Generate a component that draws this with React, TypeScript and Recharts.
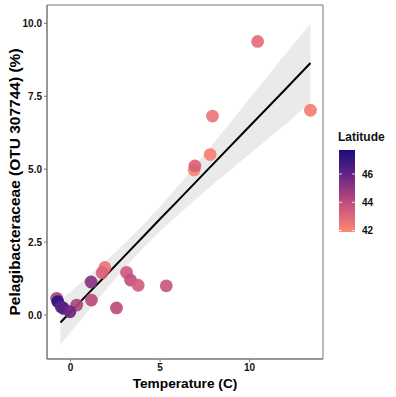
import React from 'react';
import {
    ComposedChart,
    Area,
    Line,
    Scatter,
    XAxis,
    YAxis,
    ReferenceArea
} from 'recharts';

// Samples: temperature (C), relative abundance (%), latitude
const temperature = [10.45, 13.4, 7.93, 7.8, 6.91, 6.95, 1.92, 1.77, 1.15, 3.13, 3.35, 3.78, 5.35, 1.17, 2.57, 0.35, -0.77, -0.71, -0.4, -0.52, -0.03];
const abundance = [9.38, 7.02, 6.82, 5.5, 4.97, 5.11, 1.63, 1.45, 1.13, 1.46, 1.2, 1.02, 1.0, 0.51, 0.24, 0.34, 0.57, 0.46, 0.23, 0.28, 0.11];
const latitude = [42.8, 42.3, 42.5, 42.2, 42.0, 43.2, 42.6, 43.2, 45.2, 43.5, 43.9, 43.4, 43.6, 44.1, 44.0, 44.4, 44.5, 47.3, 46.6, 46.2, 45.8];

// Linear fit with its confidence band
const fitX = [-0.56, 1, 2, 3, 4, 5, 6, 8, 10, 12, 13.4];
const fitY = [-0.26, 0.74, 1.37, 2.01, 2.65, 3.29, 3.92, 5.2, 6.47, 7.74, 8.64];
const fitLow = [-1.02, 0.15, 0.88, 1.59, 2.25, 2.87, 3.43, 4.5, 5.52, 6.53, 7.3];
const fitHigh = [0.5, 1.33, 1.86, 2.43, 3.05, 3.71, 4.41, 5.9, 7.42, 8.95, 9.98];

const xTicks = [0, 5, 10];
const yTicks = [0, 2.5, 5, 7.5, 10];
const latTicks = [42, 44, 46];

const LAT_MIN = 41.9;
const LAT_MAX = 47.7;

// colour ramp for latitude (low -> high)
const rampStops: [number, string][] = [
    [41.9, '#fd8b6f'],
    [43, '#e0667a'],
    [44, '#bd4e7c'],
    [45, '#90377f'],
    [46, '#622484'],
    [47, '#381580'],
    [47.7, '#1a0b7d']
];

const hexToRgb = (h: string) => [1, 3, 5].map((i) => parseInt(h.slice(i, i + 2), 16));

const latColor = (v: number) => {
    for (let i = 0; i < rampStops.length - 1; i++) {
        const [a, ca] = rampStops[i];
        const [b, cb] = rampStops[i + 1];
        if (v <= b || i === rampStops.length - 2) {
            const t = Math.max(0, Math.min(1, (v - a) / (b - a)));
            const ra = hexToRgb(ca);
            const rb = hexToRgb(cb);
            const c = ra.map((x, k) => Math.round(x + (rb[k] - x) * t));
            return `rgb(${c[0]},${c[1]},${c[2]})`;
        }
    }
    return rampStops[0][1];
};

const points = temperature.map((t, i) => ({ x: t, y: abundance[i], lat: latitude[i] }));
const fitData = fitX.map((x, i) => ({ x, fit: fitY[i], band: [fitLow[i], fitHigh[i]] }));

const FONT = '"Liberation Sans", Arial, sans-serif';
const BORDER = '#777777';

const LatitudeLegend = () => {
    const barTop = 150;
    const barH = 82;
    const barX = 339;
    const barW = 16;
    const toY = (v: number) => barTop + (LAT_MAX - v) / (LAT_MAX - LAT_MIN) * barH;
    return (
        <svg width={396} height={397} style={{ position: 'absolute', left: 0, top: 0, pointerEvents: 'none' }}>
            <defs>
                <linearGradient id="latGrad" x1="0" y1="1" x2="0" y2="0">
                    {rampStops.map(([v, c]) => (
                        <stop key={v} offset={(v - LAT_MIN) / (LAT_MAX - LAT_MIN)} stopColor={c} />
                    ))}
                </linearGradient>
            </defs>
            <text x={338} y={141} fontFamily={FONT} fontWeight="bold" fontSize={12} fill="#111">Latitude</text>
            <rect x={barX} y={barTop} width={barW} height={barH} fill="url(#latGrad)" />
            {latTicks.map((v) => (
                <g key={v}>
                    <line x1={barX} x2={barX + 3} y1={toY(v)} y2={toY(v)} stroke="#ffffff" strokeOpacity={0.8} />
                    <line x1={barX + barW - 3} x2={barX + barW} y1={toY(v)} y2={toY(v)} stroke="#ffffff" strokeOpacity={0.8} />
                    <text x={362} y={toY(v)} dy="0.35em" fontFamily={FONT} fontWeight="bold" fontSize={10} fill="#111">{v}</text>
                </g>
            ))}
        </svg>
    );
};

const App: React.FC = () => {
    return (
        <div style={{ position: 'absolute', left: 0, top: 0, width: 396, height: 397, background: '#fff' }}>
            <ComposedChart
                width={396}
                height={397}
                data={fitData}
                margin={{ top: 5, right: 73, left: 0, bottom: 0 }}
            >
                <XAxis
                    type="number"
                    dataKey="x"
                    domain={[-1.31, 14.1]}
                    ticks={xTicks}
                    allowDataOverflow
                    height={38}
                    tickSize={3}
                    tickLine={{ stroke: BORDER }}
                    axisLine={{ stroke: BORDER }}
                    tick={{ fill: '#111', fontSize: 10, fontWeight: 'bold', fontFamily: FONT }}
                    label={{
                        content: (props: any) => {
                            const { viewBox } = props;
                            return (
                                <text
                                    x={viewBox.x + viewBox.width / 2}
                                    y={388}
                                    textAnchor="middle"
                                    fontFamily={FONT}
                                    fontWeight="bold"
                                    fontSize={13.7}
                                    fill="#000"
                                >
                                    Temperature (C)
                                </text>
                            );
                        }
                    }}
                />
                <YAxis
                    type="number"
                    domain={[-1.51, 10.63]}
                    ticks={yTicks}
                    allowDataOverflow
                    width={47}
                    tickSize={3}
                    tickLine={{ stroke: BORDER }}
                    axisLine={{ stroke: BORDER }}
                    tickFormatter={(v: number) => v.toFixed(1)}
                    tick={{ fill: '#111', fontSize: 10, fontWeight: 'bold', fontFamily: FONT }}
                    label={{
                        content: (props: any) => {
                            const { viewBox } = props;
                            const cy = viewBox.y + viewBox.height / 2;
                            return (
                                <text
                                    x={14}
                                    y={cy}
                                    transform={`rotate(-90, 14, ${cy})`}
                                    textAnchor="middle"
                                    dominantBaseline="central"
                                    fontFamily={FONT}
                                    fontWeight="bold"
                                    fontSize={15.5}
                                    fill="#000"
                                >
                                    Pelagibacteraceae (OTU 307744) (%)
                                </text>
                            );
                        }
                    }}
                />

                {/* confidence band and fitted line */}
                <Area
                    dataKey="band"
                    type="linear"
                    stroke="none"
                    fill="#d9d9d9"
                    fillOpacity={0.55}
                    isAnimationActive={false}
                />
                <Line
                    dataKey="fit"
                    type="linear"
                    stroke="#000"
                    strokeWidth={2}
                    dot={false}
                    activeDot={false}
                    isAnimationActive={false}
                />

                <Scatter
                    data={points}
                    dataKey="y"
                    isAnimationActive={false}
                    shape={(props: any) => (
                        <circle
                            cx={props.cx}
                            cy={props.cy}
                            r={6.4}
                            fill={latColor(props.payload.lat)}
                            fillOpacity={0.92}
                        />
                    )}
                />

                <ReferenceArea
                    x1={-1.31}
                    x2={14.1}
                    y1={-1.51}
                    y2={10.63}
                    fill="none"
                    stroke={BORDER}
                    strokeWidth={1}
                />
            </ComposedChart>
            <LatitudeLegend />
        </div>
    );
};

export default App;
